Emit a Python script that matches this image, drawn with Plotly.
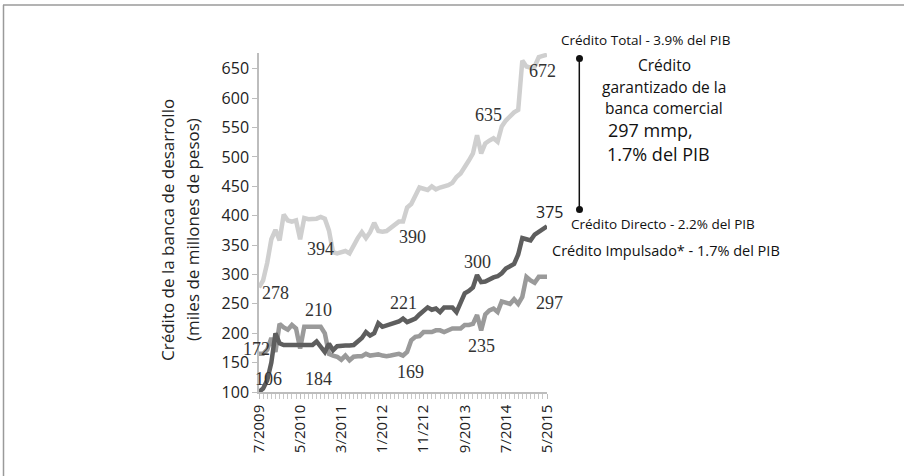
import plotly.graph_objects as go

# ---------------- data ----------------
months = list(range(71))  # monthly, 7/2009 .. 5/2015
tick_vals = [0, 10, 20, 30, 40, 50, 60, 70]
tick_text = ["7/2009", "5/2010", "3/2011", "1/2012", "11/212", "9/2013", "7/2014", "5/2015"]

credito_total = [278, 290, 320, 360, 376, 358, 402, 392, 390, 392,
                 360, 396, 394, 394, 395, 398, 395, 375, 338, 336,
                 338, 340, 336, 350, 362, 372, 362, 372, 388, 374,
                 373, 374, 380, 386, 390, 390, 414, 420, 436, 448,
                 446, 444, 450, 445, 448, 450, 452, 456, 466, 472,
                 482, 494, 506, 537, 506, 523, 528, 532, 526, 552,
                 562, 570, 576, 580, 664, 654, 652, 654, 670, 672, 674]

credito_directo = [100, 106, 120, 150, 200, 183, 180, 180, 180, 180,
                   180, 180, 180, 180, 186, 178, 168, 182, 171, 178,
                   179, 179, 179, 180, 186, 192, 202, 196, 200, 217,
                   211, 213, 214, 216, 220, 225, 219, 222, 225, 232,
                   238, 244, 240, 242, 236, 244, 244, 244, 236, 252,
                   268, 272, 278, 299, 287, 288, 292, 295, 297, 302,
                   310, 314, 318, 334, 362, 360, 358, 368, 372, 376, 382]

credito_impulsado = [165, 165, 172, 192, 168, 216, 210, 206, 214, 208,
                     174, 211, 211, 211, 211, 211, 200, 165, 162, 160,
                     155, 162, 154, 160, 161, 161, 165, 162, 163, 164,
                     162, 161, 162, 164, 165, 162, 168, 188, 194, 195,
                     202, 202, 202, 205, 205, 202, 205, 208, 208, 208,
                     214, 214, 216, 231, 205, 232, 239, 242, 236, 254,
                     252, 250, 258, 250, 262, 296, 290, 286, 296, 296, 296]

# value labels written on the chart
label_text = ["278", "394", "390", "635", "672",
              "172", "106", "184", "210", "221", "169", "300", "235", "297"]
label_x = [4.1, 14.9, 37.3, 55.8, 68.9,
           -0.6, 2.2, 14.4, 14.4, 35.1, 36.9, 53.1, 54.2, 70.5]
label_y = [268, 344, 364, 571, 646,
           174, 122, 122, 240, 252, 134, 322, 178, 252]

X_MIN, X_MAX = 0, 70
Y_MIN, Y_MAX = 100, 677

W, H = 905, 476
L, R, T, B = 259, 547, 53, 392  # plot area in pixels


def px(x):
    return (x - L) / (R - L)


def py(y):
    return (B - y) / (B - T)


SANS = "Open Sans"
SERIF = "Liberation Serif"

fig = go.Figure()
fig.add_trace(go.Scatter(x=months, y=credito_total, mode="lines", name="Crédito Total",
                         line=dict(color="#cfcfcf", width=4.5), showlegend=False))
fig.add_trace(go.Scatter(x=months, y=credito_impulsado, mode="lines", name="Crédito Impulsado",
                         line=dict(color="#9a9a9a", width=4.5), showlegend=False))
fig.add_trace(go.Scatter(x=months, y=credito_directo, mode="lines", name="Crédito Directo",
                         line=dict(color="#5e5e5e", width=4.5), showlegend=False))

annotations = []
for t, x, y in zip(label_text, label_x, label_y):
    annotations.append(dict(x=(x - X_MIN) / (X_MAX - X_MIN), y=(y - Y_MIN) / (Y_MAX - Y_MIN),
                            xref="paper", yref="paper", text=t, showarrow=False,
                            xanchor="center", yanchor="middle",
                            font=dict(family=SERIF, size=18, color="#333333")))

# "375" label (sans)
annotations.append(dict(x=px(549), y=py(212), xref="paper", yref="paper", text="375",
                        xanchor="center", yanchor="middle",
                        showarrow=False, font=dict(family=SANS, size=16, color="#222222")))

# y-axis title
annotations.append(dict(x=px(168), y=py(230), xref="paper", yref="paper",
                        xanchor="center", yanchor="middle",
                        text="Crédito de la banca de desarrollo", textangle=-90, showarrow=False,
                        font=dict(family=SANS, size=17, color="#222222")))
annotations.append(dict(x=px(193), y=py(230), xref="paper", yref="paper",
                        xanchor="center", yanchor="middle",
                        text="(miles de millones de pesos)", textangle=-90, showarrow=False,
                        font=dict(family=SANS, size=17, color="#222222")))

# right side texts
right_texts = [
    ("Crédito Total - 3.9% del PIB", 645, 40, 13.5),
    ("Crédito", 664, 65, 15.5),
    ("garantizado de la", 664, 87, 15.5),
    ("banca comercial", 664, 108, 15.5),
    ("297 mmp,", 650, 130, 18),
    ("1.7% del PIB", 658, 154, 18),
    ("Crédito Directo - 2.2% del PIB", 663, 224, 13.5),
    ("Crédito Impulsado* - 1.7% del PIB", 666, 250, 14.5),
]
for t, x, y, s in right_texts:
    annotations.append(dict(x=px(x), y=py(y), xref="paper", yref="paper", text=t,
                            xanchor="center", yanchor="middle",
                            showarrow=False, font=dict(family=SANS, size=s, color="#111111")))

shapes = [
    # bracket line with dots
    dict(type="line", xref="paper", yref="paper", x0=px(579.3), x1=px(579.3),
         y0=py(58.3), y1=py(209.3), line=dict(color="#111111", width=1.5)),
    dict(type="circle", xref="paper", yref="paper", x0=px(576), x1=px(583),
         y0=py(55), y1=py(62), fillcolor="#111111", line=dict(width=0)),
    dict(type="circle", xref="paper", yref="paper", x0=px(576), x1=px(583),
         y0=py(206), y1=py(213), fillcolor="#111111", line=dict(width=0)),
    # frame (top and left)
    dict(type="line", xref="paper", yref="paper", x0=px(3), x1=px(904),
         y0=py(5), y1=py(5), line=dict(color="#9a9a9a", width=1.5)),
    dict(type="line", xref="paper", yref="paper", x0=px(3.5), x1=px(3.5),
         y0=py(5), y1=py(476), line=dict(color="#9a9a9a", width=1.5)),
]

fig.update_layout(
    width=W, height=H,
    margin=dict(l=L, r=W - R, t=T, b=H - B, pad=0),
    paper_bgcolor="white", plot_bgcolor="white",
    annotations=annotations, shapes=shapes,
    showlegend=False,
)
fig.update_xaxes(range=[X_MIN, X_MAX], tickvals=tick_vals, ticktext=tick_text, tickangle=-90,
                 showgrid=False, zeroline=False, showline=True, linecolor="#bdbdbd", linewidth=1.5,
                 ticks="outside", ticklen=5, tickcolor="#bdbdbd",
                 minor=dict(dtick=1, tick0=0, ticks="outside", ticklen=5, tickcolor="#c8c8c8"),
                 tickfont=dict(family=SANS, size=15, color="#222222"))
fig.update_yaxes(range=[Y_MIN, Y_MAX], tickvals=[100, 150, 200, 250, 300, 350, 400, 450, 500, 550, 600, 650],
                 showgrid=False, zeroline=False, showline=True, linecolor="#bdbdbd", linewidth=1.5,
                 ticks="outside", ticklen=5, tickcolor="#bdbdbd",
                 tickfont=dict(family=SANS, size=16, color="#222222"))

fig.write_html("out.html", config={"displayModeBar": False},
               post_script="document.body.style.margin='0';document.body.style.overflow='hidden';")
